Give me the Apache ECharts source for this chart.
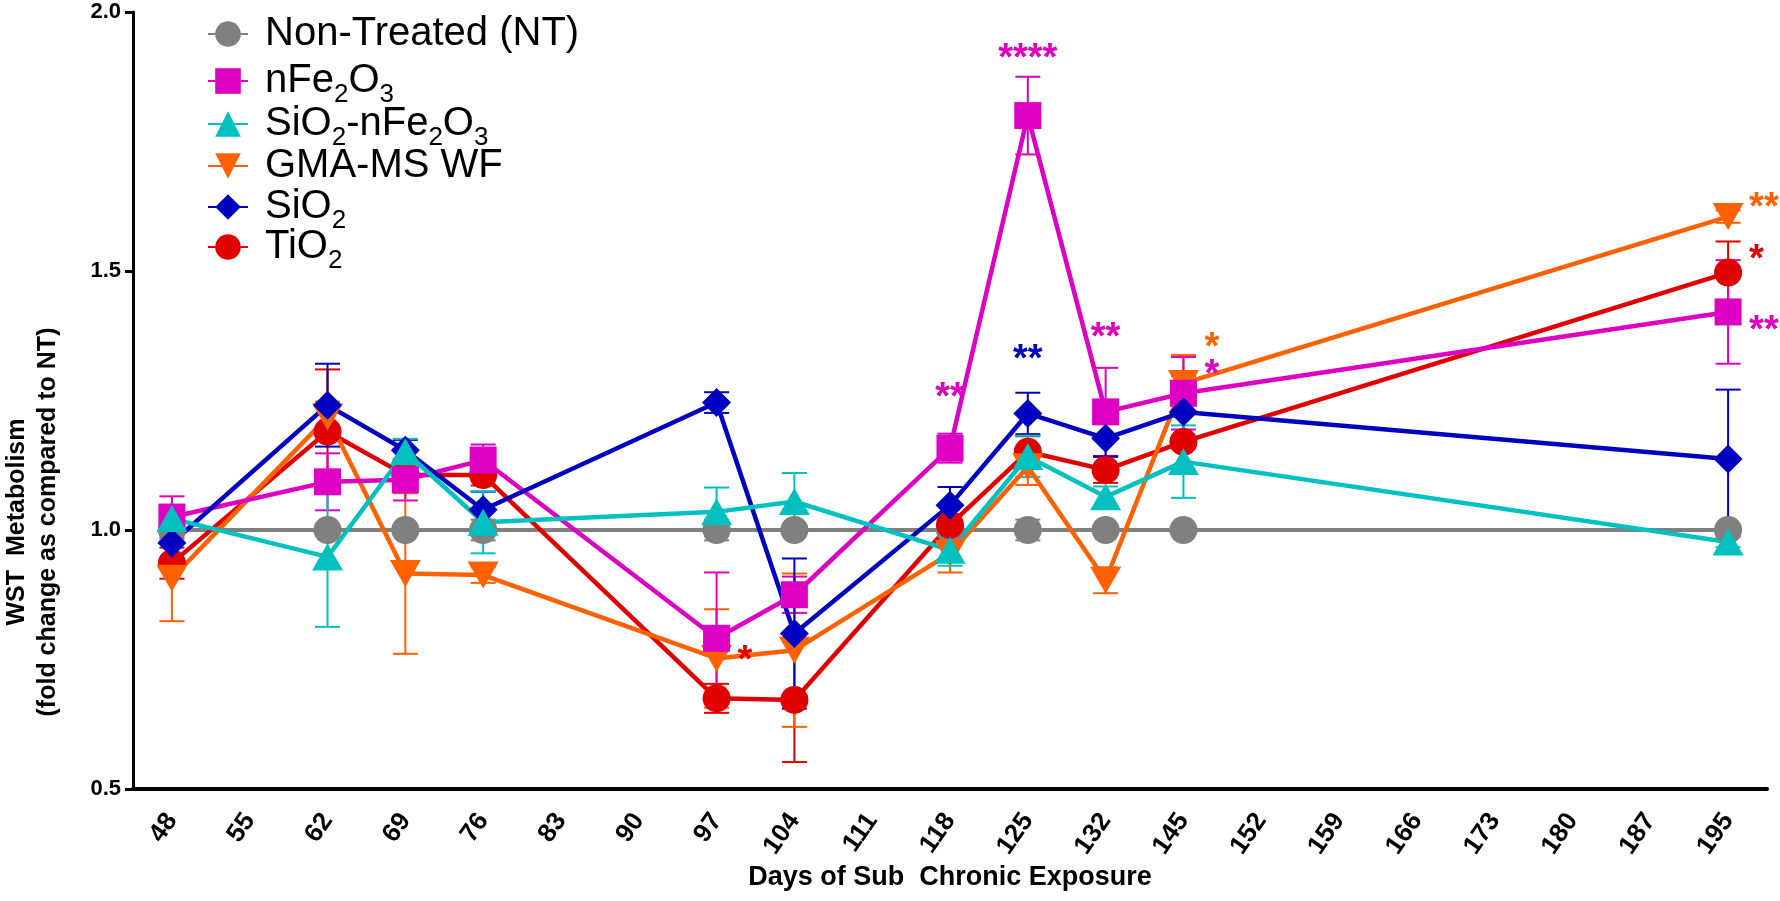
<!DOCTYPE html>
<html><head><meta charset="utf-8">
<script src="https://cdn.jsdelivr.net/npm/echarts@6/dist/echarts.min.js"></script>
<style>html,body{margin:0;padding:0;background:#fff}#c{width:1780px;height:901px}</style>
</head><body><div id="c"></div>
<script>
// ---- data ----
const tickLabels = ['48','55','62','69','76','83','90','97','104','111','118','125','132','145','152','159','166','173','180','187','195'];
const days = [48, 62, 69, 76, 97, 104, 118, 125, 132, 145, 195];
const yTickValues = [0.5, 1.0, 1.5, 2.0];

const ntMean    = [1.000, 1.000, 1.000, 1.000, 1.000, 1.000, 1.000, 1.000, 1.000, 1.000, 1.000];
const ntErr     = [0.020, 0.000, 0.000, 0.020, 0.020, 0.000, 0.020, 0.020, 0.000, 0.000, 0.000];
const feMean    = [1.025, 1.093, 1.097, 1.135, 0.791, 0.875, 1.158, 1.800, 1.228, 1.264, 1.421];
const feErr     = [0.040, 0.055, 0.040, 0.030, 0.127, 0.035, 0.028, 0.075, 0.085, 0.070, 0.100];
const siFeMean  = [1.022, 0.948, 1.151, 1.015, 1.035, 1.055, 0.961, 1.142, 1.064, 1.132, 0.977];
const siFeErr   = [0.025, 0.135, 0.025, 0.060, 0.047, 0.055, 0.030, 0.040, 0.020, 0.070, 0.010];
const gmaMean   = [0.907, 1.218, 0.916, 0.913, 0.752, 0.768, 0.955, 1.122, 0.903, 1.283, 1.605];
const gmaErr    = [0.083, 0.030, 0.155, 0.015, 0.095, 0.148, 0.037, 0.035, 0.025, 0.055, 0.012];
const sio2Mean  = [0.975, 1.241, 1.154, 1.039, 1.246, 0.800, 1.048, 1.225, 1.177, 1.228, 1.137];
const sio2Err   = [0.050, 0.080, 0.020, 0.035, 0.020, 0.145, 0.035, 0.040, 0.035, 0.070, 0.134];
const tio2Mean  = [0.936, 1.190, 1.106, 1.106, 0.675, 0.672, 1.010, 1.151, 1.116, 1.170, 1.497];
const tio2Err   = [0.030, 0.120, 0.030, 0.020, 0.028, 0.120, 0.020, 0.030, 0.025, 0.060, 0.060];

const seriesNames = ['Non-Treated (NT)', 'nFe2O3', 'SiO2-nFe2O3', 'GMA-MS WF', 'SiO2', 'TiO2'];

// significance marks: [day, value, text, series index, place]
const annotations = [
  [125, 1.925, '****', 1, 'above'],
  [118, 1.270, '**',   1, 'above'],
  [125, 1.344, '**',   4, 'above'],
  [132, 1.386, '**',   1, 'above'],
  [145, 1.367, '*',    3, 'right'],
  [145, 1.315, '*',    1, 'right'],
  [97,  0.763, '*',    5, 'right'],
  [195, 1.637, '**',   3, 'right'],
  [195, 1.537, '*',    5, 'right'],
  [195, 1.400, '**',   1, 'right']
];

// ---- styles ----
const FONT = "'Liberation Sans', Arial, Helvetica, sans-serif";
const colors = ['#808080', '#DD00C3', '#00C0C0', '#FF6000', '#0000C0', '#E00000'];
const symbols = ['circle', 'rect', 'triangle', 'triangle', 'diamond', 'circle'];
const symbolSizes = [28, 27, [31, 27], [31, 27], [29, 29], 28];
const symbolRotates = [0, 0, 0, 180, 0, 0];
const lineWidths = [4, 4.5, 4.5, 4.5, 4.5, 4.5];
const legendCenters = [34, 81, 124, 166, 207, 247];
const means = [ntMean, feMean, siFeMean, gmaMean, sio2Mean, tio2Mean];
const errs  = [ntErr, feErr, siFeErr, gmaErr, sio2Err, tio2Err];
const drawOrder = [0, 5, 3, 1, 4, 2];

function errSeries(i) {
  const color = colors[i];
  return {
    type: 'custom',
    id: 'err' + i,
    coordinateSystem: 'cartesian2d',
    encode: { x: 0, y: 1 },
    silent: true,
    data: days.map((d, k) => [String(d), means[i][k], errs[i][k]]),
    renderItem: function (params, api) {
      const x = api.value(0), m = api.value(1), e = api.value(2);
      if (!e) return null;
      const t = api.coord([x, m + e]);
      const b = api.coord([x, m - e]);
      const hw = 12.5;
      const st = { stroke: color, lineWidth: 2 };
      return {
        type: 'group',
        children: [
          { type: 'line', shape: { x1: t[0], y1: t[1], x2: b[0], y2: b[1] }, style: st },
          { type: 'line', shape: { x1: t[0] - hw, y1: t[1], x2: t[0] + hw, y2: t[1] }, style: st },
          { type: 'line', shape: { x1: b[0] - hw, y1: b[1], x2: b[0] + hw, y2: b[1] }, style: st }
        ]
      };
    }
  };
}

function lineSeries(i) {
  return {
    type: 'line',
    name: seriesNames[i],
    data: days.map((d, k) => [String(d), means[i][k]]),
    symbol: symbols[i],
    symbolSize: symbolSizes[i],
    symbolRotate: symbolRotates[i],
    showAllSymbol: true,
    lineStyle: { color: colors[i], width: lineWidths[i] },
    itemStyle: { color: colors[i] },
    emphasis: { disabled: true }
  };
}

const series = [];
drawOrder.forEach(i => { series.push(errSeries(i)); series.push(lineSeries(i)); });

const ANN_FS = 38;
series.push({
  type: 'custom',
  id: 'annotations',
  coordinateSystem: 'cartesian2d',
  encode: { x: 0, y: 1 },
  silent: true,
  z: 10,
  data: annotations.map(a => [String(a[0]), a[1]]),
  renderItem: function (params, api) {
    const a = annotations[params.dataIndex];
    const p = api.coord([api.value(0), api.value(1)]);
    const right = a[4] === 'right';
    return {
      type: 'text',
      x: p[0] + (right ? 21 : 0),
      y: p[1] + 0.23 * ANN_FS,
      style: {
        text: a[2], fill: colors[a[3]], font: 'bold ' + ANN_FS + 'px ' + FONT,
        align: right ? 'left' : 'center', verticalAlign: 'middle'
      }
    };
  }
});

const legends = seriesNames.map((n, i) => ({
  data: [n],
  left: 207,
  top: legendCenters[i] - 27,
  padding: 0,
  itemWidth: 40,
  itemHeight: 32,
  itemGap: 0,
  selectedMode: false,
  formatter: name => name.replace(/(\d)/g, '{s|$1}'),
  textStyle: {
    fontFamily: FONT, fontSize: 40, lineHeight: 54, color: '#000',
    padding: [0, 0, 0, 12],
    rich: { s: { fontFamily: FONT, fontSize: 26, lineHeight: 26, padding: [28, 0, 0, 0], color: '#000' } }
  }
}));

const chart = echarts.init(document.getElementById('c'), null, { renderer: 'canvas' });
chart.setOption({
  animation: false,
  backgroundColor: '#fff',
  grid: { left: 133, right: 13, top: 12, bottom: 112, containLabel: false, outerBoundsMode: 'none' },
  legend: legends,
  xAxis: {
    type: 'category',
    data: tickLabels,
    boundaryGap: true,
    name: 'Days of Sub  Chronic Exposure',
    nameLocation: 'middle',
    nameGap: 75,
    nameMoveOverlap: false,
    nameTextStyle: { fontFamily: FONT, fontSize: 27, fontWeight: 'bold', color: '#000' },
    axisLine: { lineStyle: { color: '#000', width: 4 } },
    axisTick: { alignWithLabel: true, length: 10, lineStyle: { color: '#000', width: 3 } },
    axisLabel: { interval: 0, rotate: 55, margin: 27, fontFamily: FONT, fontSize: 26, fontWeight: 'bold', color: '#000' },
    splitLine: { show: false }
  },
  yAxis: {
    type: 'value',
    min: yTickValues[0],
    max: yTickValues[yTickValues.length - 1],
    interval: 0.5,
    axisLine: { show: true, lineStyle: { color: '#000', width: 3 } },
    axisTick: { show: true, length: 8, lineStyle: { color: '#000', width: 3 } },
    axisLabel: { margin: 12, fontFamily: FONT, fontSize: 22, fontWeight: 'bold', color: '#000', formatter: v => v.toFixed(1) },
    splitLine: { show: false }
  },
  graphic: [{
    type: 'text',
    x: 33, y: 522,
    rotation: Math.PI / 2,
    style: {
      text: 'WST  Metabolism\n(fold change as compared to NT)',
      font: 'bold 25px ' + FONT,
      fill: '#000', align: 'center', verticalAlign: 'middle', lineHeight: 31
    }
  }],
  series: series
});
</script>
</body></html>
